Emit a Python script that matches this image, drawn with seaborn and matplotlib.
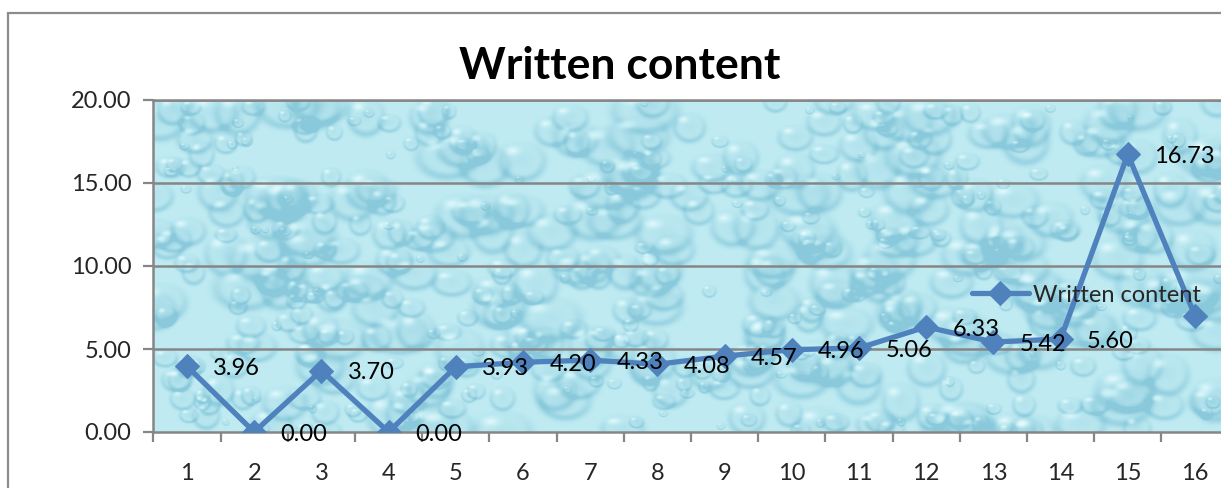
import numpy as np
import matplotlib
matplotlib.use("Agg")
import matplotlib.pyplot as plt
from matplotlib.patches import Rectangle
import seaborn as sns

# Chart data
categories = list(range(1, 17))
written_content = [3.96, 0.00, 3.70, 0.00, 3.93, 4.20, 4.33, 4.08,
                   4.57, 4.96, 5.06, 6.33, 5.42, 5.60, 16.73, 7.00]
y_ticks = [0, 5, 10, 15, 20]
series_name = "Written content"
title_text = "Written content"

sns.set_theme(style="white")
plt.rcParams["font.family"] = ["Lato", "DejaVu Sans"]

W, H, DPI = 1221, 488, 100
fig = plt.figure(figsize=(W / DPI, H / DPI), dpi=DPI)
fig.patch.set_facecolor("white")

# outer chart-area border (continues past the right/bottom edge)
fig.add_artist(Rectangle((8 / W, -0.05), 1.2, 1 - 13 / H + 0.05,
                         transform=fig.transFigure, fill=False,
                         edgecolor="#8c8c8c", linewidth=1.6))

left_px, right_px, top_px, bottom_px = 153.4, 1228.6, 100, 432
ax = fig.add_axes([left_px / W, 1 - bottom_px / H,
                   (right_px - left_px) / W, (bottom_px - top_px) / H])

# water-drop style background texture for the plot area
ny, nx = 332, 1075
yy, xx = np.mgrid[0:ny, 0:nx]
tex = np.zeros((ny, nx))
rng = np.random.default_rng(11)
for _ in range(600):
    cx, cy = rng.uniform(0, nx), rng.uniform(0, ny)
    r = rng.uniform(3, 24)
    sx, sy = r * rng.uniform(0.9, 1.5), r
    x0, x1 = int(max(cx - 3 * sx, 0)), int(min(cx + 3 * sx, nx))
    y0, y1 = int(max(cy - 3 * sy, 0)), int(min(cy + 3 * sy, ny))
    if x1 <= x0 or y1 <= y0:
        continue
    sxx, syy = xx[y0:y1, x0:x1], yy[y0:y1, x0:x1]
    d = np.sqrt(((sxx - cx) / sx) ** 2 + ((syy - cy) / sy) ** 2)
    # darker rim on the lower side, bright glint at the top-left
    rim = np.exp(-((d - 0.9) / 0.18) ** 2) * (0.5 + 0.5 * (syy - cy) / sy)
    glint = np.exp(-(((sxx - cx + 0.4 * sx) / (0.25 * sx)) ** 2
                     + ((syy - cy + 0.45 * sy) / (0.18 * sy)) ** 2))
    body = np.where(d < 1, 0.25 * (1 - d), 0)
    tex[y0:y1, x0:x1] += rim * 0.7 + body - glint * 0.9
tex = np.clip(tex, -1.0, 1.0)
light = np.array([0.90, 0.98, 0.99])
dark = np.array([0.54, 0.79, 0.86])
base = np.array([0.75, 0.92, 0.95])
t = tex[..., None]
img = np.where(t > 0, base + (dark - base) * np.clip(t, 0, 1),
               base + (light - base) * np.clip(-t, 0, 1))
ax.imshow(img, extent=(0.5, 16.5, 0, 20), aspect="auto", zorder=0,
          interpolation="bilinear")

# horizontal gridlines
for yv in y_ticks[1:]:
    ax.axhline(yv, color="#868686", linewidth=1.8, zorder=1)

sns.lineplot(x=categories, y=written_content, ax=ax, color="#4f81bd",
             linewidth=3.8, marker="D", markersize=12,
             markeredgecolor="#4f81bd", label=series_name, zorder=3)

for xv, yv in zip(categories, written_content):
    ax.annotate(f"{yv:.2f}", (xv, yv), xytext=(19, -1.5),
                textcoords="offset points", ha="left", va="center",
                fontsize=17, color="black", zorder=4, annotation_clip=False)

ax.set_xlim(0.5, 16.5)
ax.set_ylim(0, 20)
ax.set_yticks(y_ticks)
ax.set_yticklabels([f"{v:.2f}" for v in y_ticks])
ax.set_xticks(categories)
ax.set_xticklabels([str(c) for c in categories])
ax.set_xticks(np.arange(0.5, 17, 1), minor=True)
ax.tick_params(axis="x", which="major", length=0, pad=22, labelsize=17)
ax.tick_params(axis="x", which="minor", length=7, width=1.6,
               color="#868686", direction="out", bottom=True)
ax.tick_params(axis="y", which="major", length=7, width=1.6,
               color="#868686", direction="out", left=True, pad=9,
               labelsize=17)
ax.spines["right"].set_visible(False)
for side in ["left", "bottom", "top"]:
    ax.spines[side].set_color("#868686")
    ax.spines[side].set_linewidth(1.8)
ax.set_xlabel("")
ax.set_ylabel("")

leg = ax.legend(loc="center left",
                bbox_to_anchor=((972 - left_px) / (right_px - left_px),
                                (bottom_px - 295) / (bottom_px - top_px)),
                frameon=False, borderpad=0, borderaxespad=0, handlelength=2.4,
                handletextpad=0.2, fontsize=17)

fig.text(620 / W, 1 - 66 / H, title_text, ha="center", va="center",
         fontsize=32, fontweight="bold", color="black")

fig.savefig("out.png", dpi=DPI)
